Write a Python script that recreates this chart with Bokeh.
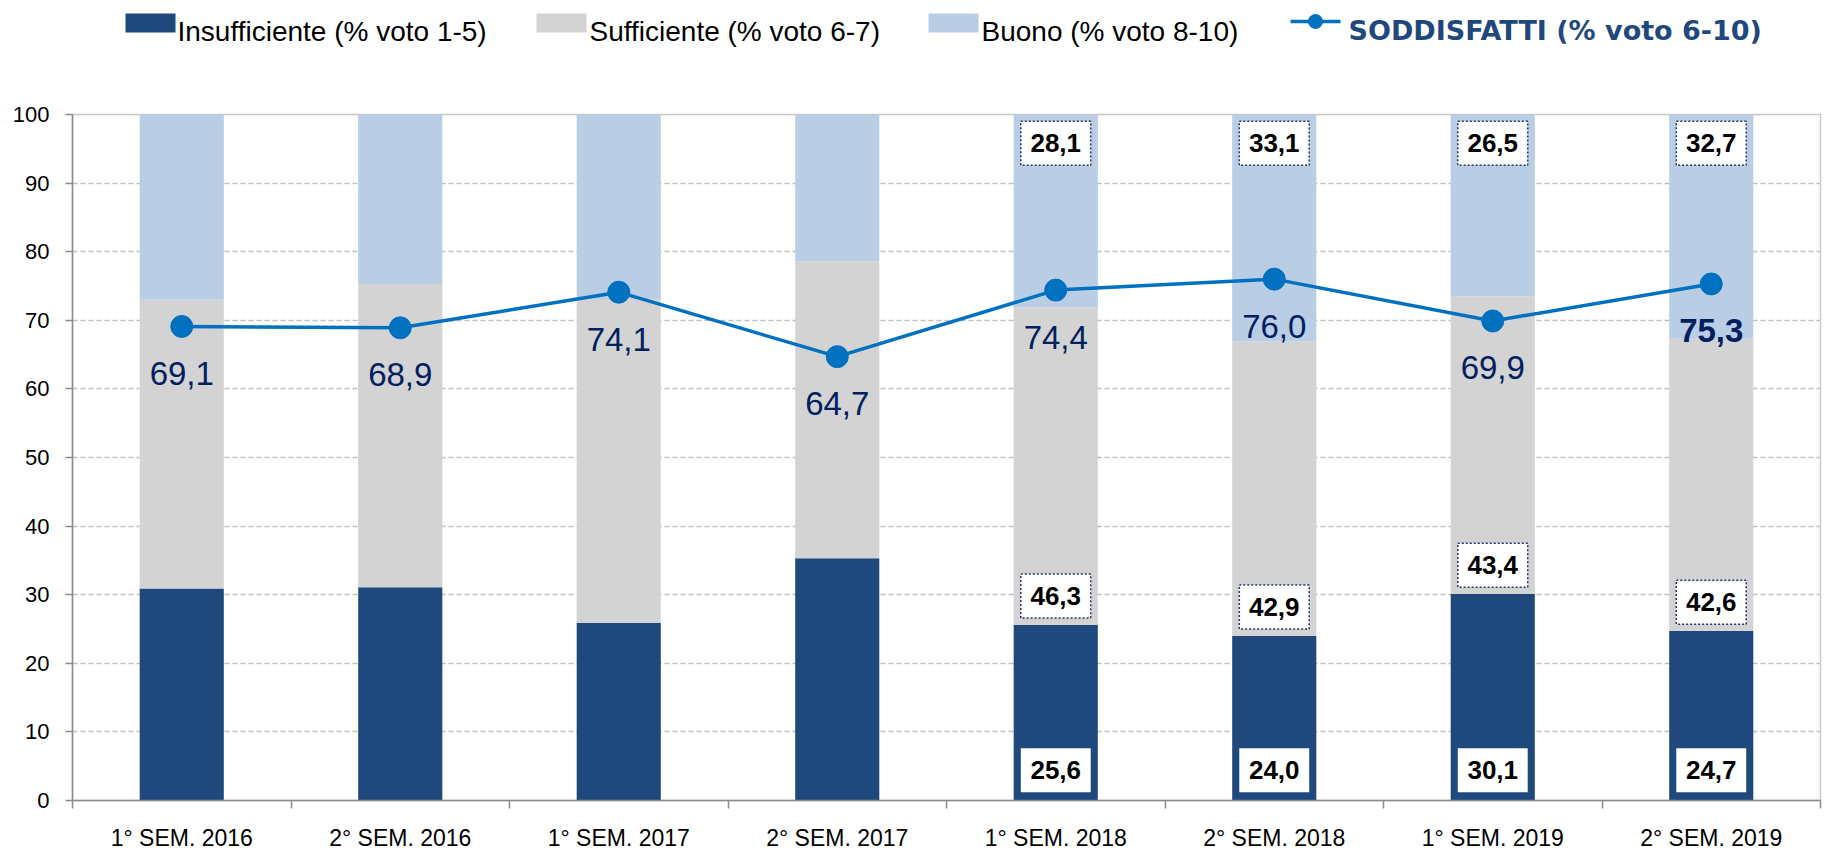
from bokeh.plotting import figure
from bokeh.models import (Range1d, LinearAxis, FixedTicker, ColumnDataSource)
from bokeh.layouts import column
from bokeh.embed import file_html
from bokeh.resources import INLINE
from bokeh.core.properties import value

# ---------------- data ----------------
categories = ["1° SEM. 2016", "2° SEM. 2016", "1° SEM. 2017", "2° SEM. 2017",
              "1° SEM. 2018", "2° SEM. 2018", "1° SEM. 2019", "2° SEM. 2019"]
insufficiente = [30.9, 31.1, 25.9, 35.3, 25.6, 24.0, 30.1, 24.7]
sufficiente = [42.1, 44.2, 47.2, 43.3, 46.3, 42.9, 43.4, 42.6]
buono = [27.0, 24.7, 26.9, 21.4, 28.1, 33.1, 26.5, 32.7]
soddisfatti = [69.1, 68.9, 74.1, 64.7, 74.4, 76.0, 69.9, 75.3]
boxed = [False, False, False, False, True, True, True, True]
y_ticks = list(range(0, 101, 10))

legend_labels = ["Insufficiente (% voto 1-5)", "Sufficiente (% voto 6-7)",
                 "Buono (% voto 8-10)", "SODDISFATTI (% voto 6-10)"]

# ---------------- styles ----------------
C_INS = "#1F497D"
C_SUF = "#D3D3D3"
C_BUO = "#B9CDE5"
C_LINE = "#0070C0"
C_LAB = "#002060"
FONT = value("Liberation Sans")
W = 1824


def fmt(v):
    return f"{v:.1f}".replace(".", ",")


n = len(categories)
xpos = [i + 0.5 for i in range(n)]  # category centres on a 0..n axis

# ---------------- main figure ----------------
p = figure(x_range=Range1d(0, n), y_range=Range1d(0, 100),
           width=W, height=801, output_backend="svg", toolbar_location=None,
           x_axis_location=None, min_border_left=72, min_border_right=4,
           min_border_top=62, min_border_bottom=52,
           outline_line_color="#C8C8C8", outline_line_width=1.5)
p.background_fill_color = "white"

src = ColumnDataSource(dict(x=xpos, insufficiente=insufficiente,
                            sufficiente=sufficiente, buono=buono))
p.vbar_stack(["insufficiente", "sufficiente", "buono"], x="x", width=0.385,
             color=[C_INS, C_SUF, C_BUO], line_color=None, source=src)

# y axis
yt = FixedTicker(ticks=y_ticks)
p.yaxis.ticker = yt
p.ygrid.ticker = yt
p.yaxis.major_label_text_font = "Liberation Sans"
p.yaxis.major_label_text_font_size = "22px"
p.yaxis.major_label_text_color = "#000000"
p.yaxis.major_tick_out = 7
p.yaxis.major_tick_in = 0
p.yaxis.minor_tick_line_color = None
p.yaxis.axis_line_color = "#8C8C8C"
p.yaxis.axis_line_width = 1.5
p.yaxis.major_tick_line_color = "#8C8C8C"
p.yaxis.major_tick_line_width = 1.5
p.yaxis.major_label_standoff = 16
p.ygrid.grid_line_color = "#BFBFBF"
p.ygrid.grid_line_dash = "5 3"
p.ygrid.grid_line_width = 1.5
p.xgrid.visible = False

# x axes: boundary ticks + category labels
edge_ticks = list(range(n + 1))
tick_axis = LinearAxis(ticker=FixedTicker(ticks=edge_ticks),
                       major_label_overrides={t: "" for t in edge_ticks},
                       major_tick_out=8, major_tick_in=0,
                       minor_tick_line_color=None,
                       axis_line_color="#8C8C8C", axis_line_width=1.5,
                       major_tick_line_color="#8C8C8C", major_tick_line_width=1.5,
                       major_label_text_font_size="1px", major_label_standoff=0)
p.add_layout(tick_axis, "below")
cat_axis = LinearAxis(ticker=FixedTicker(ticks=xpos),
                      major_label_overrides={x: c for x, c in zip(xpos, categories)},
                      axis_line_color=None, major_tick_line_color=None,
                      minor_tick_line_color=None,
                      major_label_text_font="Liberation Sans",
                      major_label_text_font_size="23px",
                      major_label_text_color="#000000",
                      major_label_standoff=10)
p.add_layout(cat_axis, "below")

# boxed value labels (last four periods)
bx, by, bt = [], [], []
wx, wy, wt = [], [], []
for x, i_, s_, b_, show in zip(xpos, insufficiente, sufficiente, buono, boxed):
    if not show:
        continue
    wx.append(x); wy.append(4.4); wt.append(fmt(i_))
    bx.append(x); by.append(i_ + 4.2); bt.append(fmt(s_))
    bx.append(x); by.append(95.8); bt.append(fmt(b_))

p.rect(x=wx, y=wy, width=0.32, height=44, height_units="screen",
       fill_color="white", line_color=None)
p.rect(x=bx, y=by, width=0.32, height=44, height_units="screen",
       fill_color="white", line_color="#1F3864", line_dash="2 2", line_width=1.5)
p.text(x=wx + bx, y=wy + by, text=wt + bt, text_align="center",
       text_baseline="middle", text_font=FONT, text_font_size="26px",
       text_font_style="bold", text_color="#000000")

# satisfied line
p.line(x=xpos, y=soddisfatti, line_color=C_LINE, line_width=3.5)
p.scatter(x=xpos, y=soddisfatti, size=22, fill_color=C_LINE, line_color=C_LINE)
styles = ["normal"] * (n - 1) + ["bold"]
lab_src = ColumnDataSource(dict(x=xpos, y=soddisfatti,
                                t=[fmt(v) for v in soddisfatti], s=styles))
p.text(x="x", y="y", text="t", source=lab_src, y_offset=47,
       text_align="center", text_baseline="middle", text_font=FONT,
       text_font_size="33px", text_font_style="s", text_color=C_LAB)

# ---------------- legend figure (frame aligned with the main frame) ----------------
lg = figure(width=W, height=52, x_range=Range1d(72, 1820), y_range=Range1d(0, 52),
            output_backend="svg", toolbar_location=None,
            x_axis_location=None, y_axis_location=None,
            min_border_left=72, min_border_right=4, min_border_top=0,
            min_border_bottom=0, outline_line_color=None)
lg.grid.visible = False

sq_x = [150, 561, 953]
txt_x = [177, 589, 981]
lg.rect(x=sq_x, y=[29.5] * 3, width=50, height=19,
        fill_color=[C_INS, C_SUF, C_BUO], line_color=None)
lg.text(x=txt_x, y=[21] * 3, text=legend_labels[:3], text_align="left",
        text_baseline="alphabetic", text_font=FONT, text_font_size="28px",
        text_color="#000000")
lg.line(x=[1290, 1340], y=[31, 31], line_color=C_LINE, line_width=3.5)
lg.scatter(x=[1315], y=[31], size=14, fill_color=C_LINE, line_color=C_LINE)
lg.text(x=[1348], y=[22], text=[legend_labels[3]], text_align="left",
        text_baseline="alphabetic", text_font=value("DejaVu Sans"),
        text_font_size="27px", text_font_style="bold", text_color=C_INS)

layout = column(lg, p, spacing=0)
open("out.html", "w").write(file_html(layout, INLINE))
